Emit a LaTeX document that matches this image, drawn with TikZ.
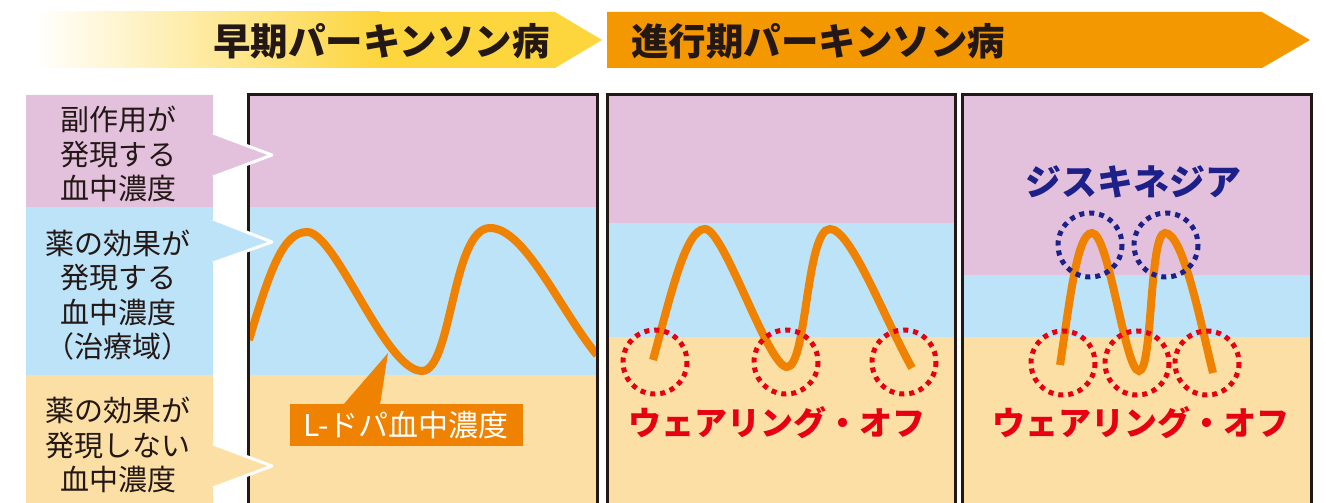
\documentclass[tikz,border=0pt]{standalone}
\usepackage{fontspec}
\newfontfamily\jp{Noto Sans CJK JP}
\definecolor{pinkz}{HTML}{E3C1DC}
\definecolor{bluez}{HTML}{BCE3F8}
\definecolor{beigez}{HTML}{FCDFA5}
\definecolor{yel}{HTML}{FDD53D}
\definecolor{org}{HTML}{F39800}
\definecolor{curvec}{HTML}{EF8200}
\definecolor{redz}{HTML}{E60012}
\definecolor{navy}{HTML}{1D2088}
\definecolor{ink}{HTML}{231815}
\tikzset{
  panelborder/.style={draw=ink, line width=3pt},
  curveline/.style={draw=curvec, line width=8pt},
  reddots/.style={draw=redz, line width=5pt, dash pattern=on 5pt off 5pt},
  navydots/.style={draw=navy, line width=5pt, dash pattern=on 5pt off 5pt},
  labeltext/.style={font=\jp\fontsize{29}{34.5}\selectfont, text=ink, align=center, inner sep=0pt},
  titletext/.style={font=\jp\bfseries\fontsize{37.5}{40}\selectfont, text=ink, inner sep=0pt},
  bigred/.style={font=\jp\bfseries\fontsize{33}{40}\selectfont, text=redz, inner sep=0pt},
  notch/.style={draw=white, line width=3pt, line join=round}
}
\begin{document}
\begin{tikzpicture}[x=1pt,y=-1pt]
\useasboundingbox (0,0) rectangle (1326,503);
\fill[white] (0,0) rectangle (1326,503);

% ---- top banners ----
\shade[left color=white, right color=yel] (35,12) rectangle (380,68);
\fill[yel] (379,12) -- (555,12) -- (602,40) -- (555,68) -- (379,68) -- cycle;
\fill[org] (607,12) -- (1262,12) -- (1310,40) -- (1262,68) -- (607,68) -- cycle;
\node[titletext, anchor=east] (early) at (550,41) {早期パーキンソン病};
\node[titletext, anchor=west] (adv) at (631,41) {進行期パーキンソン病};

% ---- panel 1 ----
\fill[pinkz] (248,95) rectangle (597,207);
\fill[bluez] (248,207) rectangle (597,375);
\fill[beigez] (248,375) rectangle (597,503);
% ---- panel 2 ----
\fill[pinkz] (607,95) rectangle (955,223);
\fill[bluez] (607,223) rectangle (955,337);
\fill[beigez] (607,337) rectangle (955,503);
% ---- panel 3 ----
\fill[pinkz] (962,95) rectangle (1311,275);
\fill[bluez] (962,275) rectangle (1311,337);
\fill[beigez] (962,337) rectangle (1311,503);

% ---- curves ----
\begin{scope}
\clip (248,95) rectangle (597,503);
\draw[curveline] (249,340) .. controls (270,270) and (283,232) .. (307,232)
  .. controls (336,232) and (385,371) .. (422,371)
  .. controls (452,371) and (452,228) .. (490,228)
  .. controls (525,228) and (560,310) .. (597,355);
\end{scope}
\draw[curveline] (653,360) .. controls (672,290) and (686,229) .. (705,229)
  .. controls (724,229) and (768,367) .. (787,367)
  .. controls (807,367) and (806,229) .. (830,229)
  .. controls (851,229) and (885,320) .. (912,368);
\draw[curveline] (1060,365) .. controls (1070,300) and (1077,233) .. (1092,233)
  .. controls (1109,233) and (1125,371) .. (1139,371)
  .. controls (1153,371) and (1149,233) .. (1165,233)
  .. controls (1183,233) and (1200,320) .. (1213,373);

% ---- dotted circles ----
\draw[reddots] (655,362) circle (32);
\draw[reddots] (786,362) circle (32);
\draw[reddots] (904,362) circle (32);
\draw[reddots] (1063,363) circle (32);
\draw[reddots] (1137,363) circle (32);
\draw[reddots] (1207,363) circle (32);
\draw[navydots] (1090,245) circle (32);
\draw[navydots] (1166,245) circle (32);

% ---- panel borders ----
\draw[panelborder] (248,503) -- (248,95) -- (597,95) -- (597,503);
\draw[panelborder] (607,503) -- (607,95) -- (955,95) -- (955,503);
\draw[panelborder] (962,503) -- (962,95) -- (1311,95) -- (1311,503);

% ---- panel texts ----
\node[bigred] (wo1) at (777,423) {ウェアリング・オフ};
\node[bigred] (wo2) at (1141,423) {ウェアリング・オフ};
\node[font=\jp\bfseries\fontsize{36}{40}\selectfont, text=navy, inner sep=0pt] (dys) at (1133,182) {ジスキネジア};

% ---- callout ----
\fill[curvec] (290,404) rectangle (523,446);
\fill[curvec] (343,405) -- (388,353) -- (380,405) -- cycle;
\node[font=\jp\fontsize{30}{34}\selectfont, text=white, inner sep=0pt] (ldopa) at (406,425) {L-ドパ血中濃度};

% ---- left labels ----
\fill[pinkz] (26,95) -- (213,95) -- (213,133) -- (272,155) -- (213,177) -- (213,207) -- (26,207) -- cycle;
\draw[notch] (213,133) -- (272,155) -- (213,177);
\fill[bluez] (26,207) -- (213,207) -- (213,219) -- (272,242) -- (213,263) -- (213,375) -- (26,375) -- cycle;
\draw[notch] (213,219) -- (272,242) -- (213,263);
\fill[beigez] (26,375) -- (213,375) -- (213,444) -- (272,466) -- (213,488) -- (213,503) -- (26,503) -- cycle;
\draw[notch] (213,444) -- (272,466) -- (213,488);

\node[labeltext] (lab1) at (118,154) {副作用が\\発現する\\血中濃度};
\node[labeltext] (lab2) at (118,295) {薬の効果が\\発現する\\血中濃度\\（治療域）};
\node[labeltext] (lab3) at (118,445) {薬の効果が\\発現しない\\血中濃度};
\end{tikzpicture}
\end{document}
